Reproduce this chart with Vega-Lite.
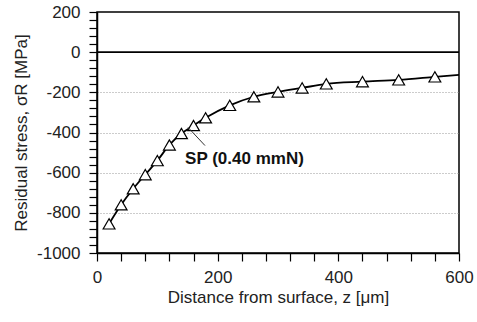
{
  "$schema": "https://vega.github.io/schema/vega-lite/v6.json",
  "width": 362,
  "height": 241,
  "autosize": {"type": "none"},
  "padding": {"left": 97, "top": 12, "right": 18, "bottom": 69},
  "background": "white",
  "config": {
    "view": {"stroke": "black", "strokeWidth": 1.5},
    "font": "Liberation Sans"
  },
  "datasets": {
    "curve": [
      {"z": 20, "sigma": -855, "marker": true},
      {"z": 40, "sigma": -760, "marker": true},
      {"z": 60, "sigma": -680, "marker": true},
      {"z": 80, "sigma": -610, "marker": true},
      {"z": 100, "sigma": -540, "marker": true},
      {"z": 120, "sigma": -462, "marker": true},
      {"z": 140, "sigma": -405, "marker": true},
      {"z": 160, "sigma": -365, "marker": true},
      {"z": 180, "sigma": -327, "marker": true},
      {"z": 220, "sigma": -265, "marker": true},
      {"z": 260, "sigma": -222, "marker": true},
      {"z": 300, "sigma": -198, "marker": true},
      {"z": 340, "sigma": -178, "marker": true},
      {"z": 380, "sigma": -158, "marker": true},
      {"z": 440, "sigma": -147, "marker": true},
      {"z": 500, "sigma": -138, "marker": true},
      {"z": 560, "sigma": -123, "marker": true},
      {"z": 600, "sigma": -113, "marker": false}
    ],
    "zero": [{"z": 0, "z2": 600, "sigma": 0}],
    "pointer": [{"z": 151, "sigma": -375, "z2": 179, "sigma2": -465}],
    "label": [{"z": 146, "sigma": -530, "label": "SP (0.40 mmN)"}]
  },
  "encoding": {
    "x": {
      "field": "z",
      "type": "quantitative",
      "scale": {"domain": [0, 600], "nice": false, "zero": false},
      "axis": {
        "title": "Distance from surface, z [μm]",
        "values": [0, 40, 80, 120, 160, 200, 240, 280, 320, 360, 400, 440, 480, 520, 560, 600],
        "labelExpr": "datum.value % 200 === 0 ? '' + datum.value : ''",
        "grid": false,
        "domainColor": "black",
        "domainWidth": 1.5,
        "tickColor": "black",
        "tickWidth": 1.2,
        "tickSize": 8,
        "labelFont": "Liberation Sans",
        "labelFontSize": 17,
        "labelColor": "#222",
        "labelPadding": 8,
        "labelFlush": false,
        "labelOverlap": false,
        "titleFont": "Liberation Sans",
        "titleFontSize": 17,
        "titleFontWeight": "normal",
        "titleColor": "#222",
        "titlePadding": 4
      }
    },
    "y": {
      "field": "sigma",
      "type": "quantitative",
      "scale": {"domain": [-1000, 200], "nice": false, "zero": false},
      "axis": {
        "title": "Residual stress, σR [MPa]",
        "values": [-1000, -960, -920, -880, -840, -800, -760, -720, -680, -640, -600, -560, -520, -480, -440, -400, -360, -320, -280, -240, -200, -160, -120, -80, -40, 0, 40, 80, 120, 160, 200],
        "labelExpr": "datum.value % 200 === 0 ? '' + datum.value : ''",
        "grid": true,
        "gridColor": "#999",
        "gridDash": [1, 2],
        "gridWidth": 1,
        "gridOpacity": {"condition": {"test": "datum.value % 200 === 0 && datum.value > -1000 && datum.value < 0", "value": 1}, "value": 0},
        "domainColor": "black",
        "domainWidth": 1.5,
        "tickColor": "black",
        "tickWidth": 1.2,
        "tickSize": 8,
        "labelFont": "Liberation Sans",
        "labelFontSize": 17,
        "labelColor": "#222",
        "labelPadding": 9,
        "labelFlush": false,
        "labelOverlap": false,
        "titleFont": "Liberation Sans",
        "titleFontSize": 17,
        "titleFontWeight": "normal",
        "titleColor": "#222",
        "titlePadding": 6
      }
    }
  },
  "layer": [
    {
      "data": {"name": "zero"},
      "mark": {"type": "rule", "color": "black", "strokeWidth": 1.6},
      "encoding": {"x2": {"field": "z2"}}
    },
    {
      "data": {"name": "curve"},
      "mark": {"type": "line", "color": "black", "strokeWidth": 1.8, "interpolate": "monotone"},
      "encoding": {}
    },
    {
      "data": {"name": "curve"},
      "transform": [{"filter": "datum.marker"}],
      "mark": {"type": "point", "shape": "triangle-up", "size": 140, "filled": true, "fill": "white", "stroke": "black", "strokeWidth": 1.2, "opacity": 1},
      "encoding": {}
    },
    {
      "data": {"name": "pointer"},
      "mark": {"type": "rule", "color": "#333", "strokeWidth": 1},
      "encoding": {"x2": {"field": "z2"}, "y2": {"field": "sigma2"}}
    },
    {
      "data": {"name": "label"},
      "mark": {"type": "text", "align": "left", "baseline": "middle", "font": "Liberation Sans", "fontSize": 17, "fontWeight": "bold", "color": "#111"},
      "encoding": {"text": {"field": "label"}}
    }
  ]
}
